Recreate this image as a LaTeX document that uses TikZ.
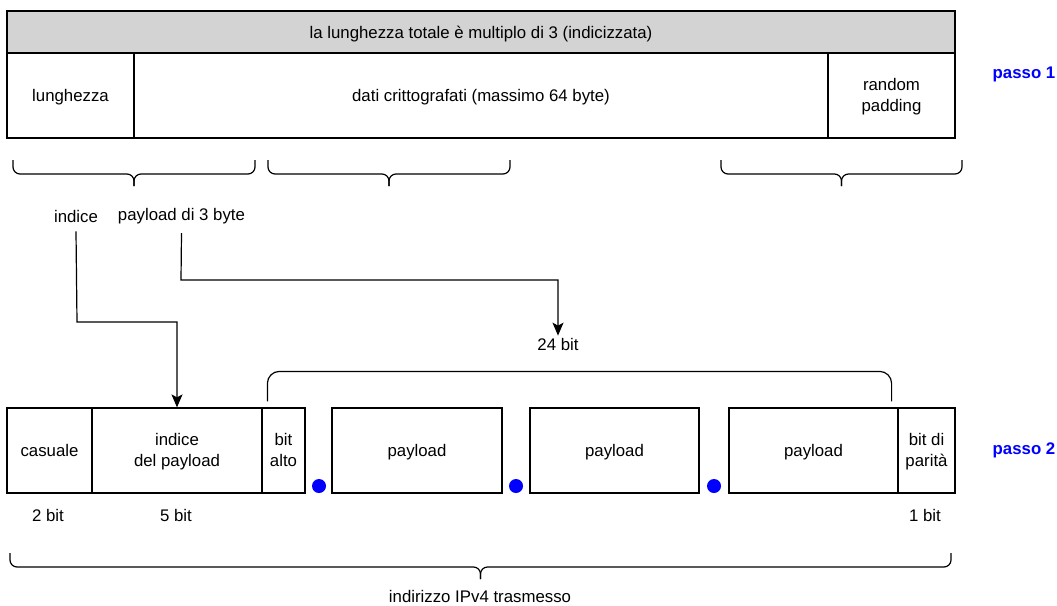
\documentclass[tikz,border=0pt]{standalone}
\usepackage{fontspec}
\setmainfont{Liberation Sans}
\usetikzlibrary{arrows.meta}
\definecolor{headgray}{HTML}{D3D3D3}
\definecolor{stepblue}{HTML}{0000FF}
\tikzset{
  cell/.style={draw, line width=1.2pt, inner sep=0pt, align=center, text height=14pt, text depth=2pt},
  cell2/.style={cell, text height=34pt, text depth=2pt},
  lbl/.style={inner sep=2pt, align=center},
  steplbl/.style={inner sep=0pt, text=stepblue, font=\fontsize{16.8}{21.5}\selectfont\bfseries},
  arr/.style={line width=1.2pt, -{Stealth[length=13pt,width=11pt,inset=3pt]}},
  bracepath/.style={line width=1.2pt, rounded corners=7pt},
  dot/.style={circle, fill=stepblue, minimum size=14pt, inner sep=0pt}
}
% horizontal curly brace opening upward: left x, right x, top y, middle y, tip y
\newcommand\hbrace[5]{%
  \draw[bracepath] (#1,#3) -- (#1,#4) -- ({(#1+#2)/2},#4) -- ({(#1+#2)/2},#5);
  \draw[bracepath] (#2,#3) -- (#2,#4) -- ({(#1+#2)/2},#4) -- ({(#1+#2)/2},#5);
}
\begin{document}
\begin{tikzpicture}[x=1pt, y=-1pt, font=\fontsize{16.8}{21.5}\selectfont]
\useasboundingbox (0,0) rectangle (1057,605);

% step 1: message layout
\node[cell, fill=headgray, minimum width=948pt, minimum height=42pt] (head) at (481,32)
  {la lunghezza totale è multiplo di 3 (indicizzata)};
\node[cell, minimum width=127pt, minimum height=85pt] (len) at (70.5,95.5) {lunghezza};
\node[cell, minimum width=694pt, minimum height=85pt] (data) at (481,95.5) {dati crittografati (massimo 64 byte)};
\node[cell2, minimum width=127pt, minimum height=85pt] (pad) at (891.5,95.5) {random\\padding};
\node[steplbl] (s1) at (1024,74) {passo 1};

% braces under step 1
\hbrace{13}{255}{160}{174}{186}
\hbrace{268}{510}{160}{174}{186}
\hbrace{721}{962}{160}{174}{186}

\node[lbl] (lIdx) at (76,216) {indice};
\node[lbl] (lPay) at (181.5,216) {payload di 3 byte};
\node[lbl] (t24) at (558,344) {24 bit};

% step 2: transmitted address
\node[cell, minimum width=85pt, minimum height=85pt] (rnd) at (49.5,450.5) {casuale};
\node[cell2, minimum width=170pt, minimum height=85pt] (idx) at (177,450.5) {indice\\del payload};
\node[cell2, minimum width=43pt, minimum height=85pt] (hi) at (283.5,450.5) {bit\\alto};
\node[cell, minimum width=170pt, minimum height=85pt] (p1) at (417,450.5) {payload};
\node[cell, minimum width=169pt, minimum height=85pt] (p2) at (614.5,450.5) {payload};
\node[cell, minimum width=169pt, minimum height=85pt] (p3) at (813.5,450.5) {payload};
\node[cell2, minimum width=57pt, minimum height=85pt] (par) at (926.5,450.5) {bit di\\parità};
\node[steplbl] (s2) at (1024,450) {passo 2};

\node[dot] (d1) at (319,486) {};
\node[dot] (d2) at (516,486) {};
\node[dot] (d3) at (714,486) {};

\node[lbl] (b2) at (48,515) {2 bit};
\node[lbl] (b5) at (176,515) {5 bit};
\node[lbl] (b1) at (925,515) {1 bit};

% connectors
\draw[arr] (lIdx.south) ++(0,7) -- (77,322) -| (idx.north);
\draw[arr] (lPay.south) ++(0,7) -- (181,280) -| (t24.north);
\draw[line width=1.2pt, rounded corners=12pt]
  ([xshift=6pt, yshift=6pt]hi.north west) -- ++(0,-30) -| ([xshift=-7pt, yshift=6pt]p3.north east);

% overall brace
\hbrace{10}{951}{553}{567}{579}
\node[inner sep=0pt] (ip) at (480,596) {indirizzo IPv4 trasmesso};
\end{tikzpicture}
\end{document}
